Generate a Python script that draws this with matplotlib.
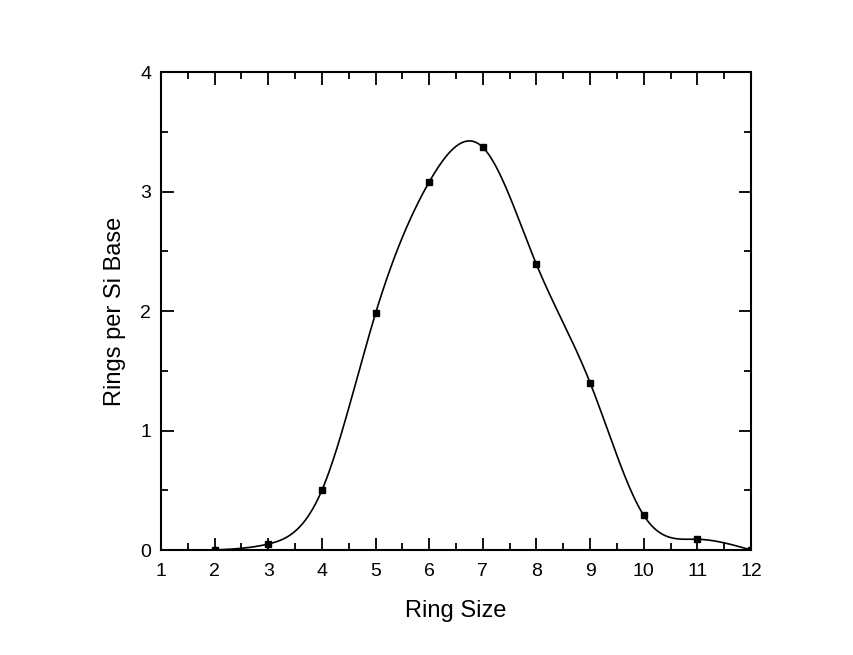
import numpy as np
import matplotlib
matplotlib.use("Agg")
import matplotlib.pyplot as plt
from matplotlib.ticker import MultipleLocator

plt.rcParams["font.family"] = ["Liberation Sans", "DejaVu Sans"]

ring_size = np.array([2, 3, 4, 5, 6, 7, 8, 9, 10, 11, 12], dtype=float)
rings_per_si = np.array([0.0, 0.05, 0.50, 1.98, 3.08, 3.37, 2.39, 1.40, 0.29, 0.09, 0.0])


def natural_spline(x, y, xs):
    """Natural cubic spline through (x, y), evaluated at xs."""
    n = len(x)
    h = np.diff(x)
    A = np.zeros((n, n))
    r = np.zeros(n)
    A[0, 0] = A[-1, -1] = 1.0
    for i in range(1, n - 1):
        A[i, i - 1] = h[i - 1]
        A[i, i] = 2 * (h[i - 1] + h[i])
        A[i, i + 1] = h[i]
        r[i] = 3 * ((y[i + 1] - y[i]) / h[i] - (y[i] - y[i - 1]) / h[i - 1])
    c = np.linalg.solve(A, r)
    b = (y[1:] - y[:-1]) / h - h * (2 * c[:-1] + c[1:]) / 3
    d = (c[1:] - c[:-1]) / (3 * h)
    idx = np.clip(np.searchsorted(x, xs) - 1, 0, n - 2)
    dx = xs - x[idx]
    return y[idx] + b[idx] * dx + c[idx] * dx ** 2 + d[idx] * dx ** 3


xs = np.linspace(ring_size.min(), ring_size.max(), 400)
ys = natural_spline(ring_size, rings_per_si, xs)

fig = plt.figure(figsize=(8.54, 6.55), dpi=100)
ax = fig.add_axes([0.1885, 0.1603, 0.6909, 0.7297])
ax.plot(xs, ys, "-", color="black", lw=1.2)
ax.plot(ring_size, rings_per_si, "s", color="black", ms=4)

ax.set_xlim(1, 12)
ax.set_ylim(0, 4)
ax.xaxis.set_major_locator(MultipleLocator(1))
ax.xaxis.set_minor_locator(MultipleLocator(0.5))
ax.yaxis.set_major_locator(MultipleLocator(1))
ax.yaxis.set_minor_locator(MultipleLocator(0.5))
ax.tick_params(which="both", direction="in", top=True, right=True, width=1.3)
ax.tick_params(which="major", length=9, labelsize=14, pad=7)
ax.tick_params(axis="x", which="major", pad=9)
ax.tick_params(which="minor", length=5)
for s in ax.spines.values():
    s.set_linewidth(1.5)

ax.set_xlabel("Ring Size", fontsize=17, labelpad=15)
ax.set_ylabel("Rings per Si Base", fontsize=17, labelpad=10)

fig.savefig("out.png", dpi=100)
